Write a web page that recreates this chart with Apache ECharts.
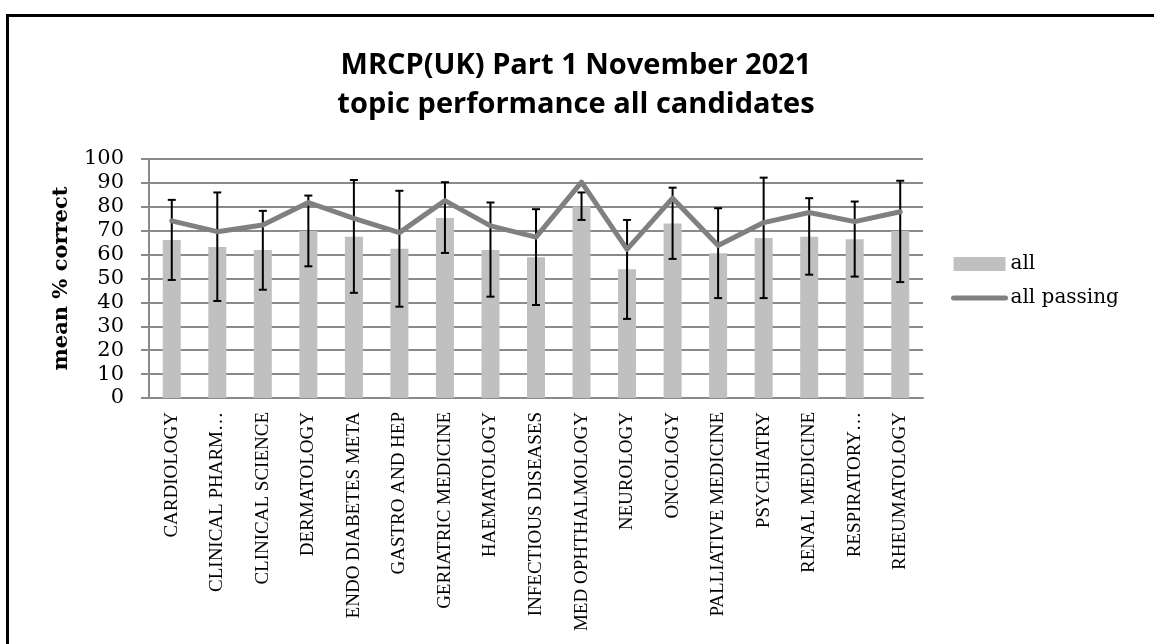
<!DOCTYPE html>
<html>
<head>
<meta charset="utf-8">
<title>MRCP(UK) Part 1 November 2021</title>
<script src="https://cdn.jsdelivr.net/npm/echarts@6/dist/echarts.min.js"></script>
<style>
  html, body { margin: 0; padding: 0; background: #fff; }
  #chart { width: 1154px; height: 644px; }
</style>
</head>
<body>
<div id="chart"></div>
<script>
// topics, as labelled on the axis
var topics = [
  'CARDIOLOGY', 'CLINICAL PHARM\u2026', 'CLINICAL SCIENCE', 'DERMATOLOGY',
  'ENDO DIABETES META', 'GASTRO AND HEP', 'GERIATRIC MEDICINE', 'HAEMATOLOGY',
  'INFECTIOUS DISEASES', 'MED OPHTHALMOLOGY', 'NEUROLOGY', 'ONCOLOGY',
  'PALLIATIVE MEDICINE', 'PSYCHIATRY', 'RENAL MEDICINE', 'RESPIRATORY\u2026', 'RHEUMATOLOGY'
]
var allMean = [66.1, 63.2, 61.9, 69.9, 67.5, 62.5, 75.3, 61.9, 58.9, 80.1, 53.9, 73.0, 60.6, 66.9, 67.5, 66.4, 69.9]
var allPassing = [74.1, 69.6, 72.4, 81.8, 75.2, 69.2, 82.6, 72.0, 67.3, 90.3, 62.2, 83.6, 63.8, 73.4, 77.6, 73.8, 77.9]
// error bar ends for "all"
var errLow = [49.4, 40.6, 45.3, 55.1, 44.0, 38.2, 60.7, 42.4, 38.9, 74.5, 33.1, 58.2, 41.8, 41.8, 51.6, 50.8, 48.5]
var errHigh = [82.9, 86.0, 78.3, 84.7, 91.2, 86.7, 90.3, 81.8, 79.0, 86.0, 74.5, 88.0, 79.4, 92.2, 83.6, 82.2, 90.9]
var yTicks = [0, 10, 20, 30, 40, 50, 60, 70, 80, 90, 100]

var errData = topics.map(function (t, i) { return [i, errLow[i], errHigh[i]] })

var chart = echarts.init(document.getElementById('chart'))

function renderErr(params, api) {
  var lo = api.coord([api.value(0), api.value(1)])
  var hi = api.coord([api.value(0), api.value(2)])
  var cap = 4
  var st = { stroke: '#000', lineWidth: 2 }
  return {
    type: 'group',
    children: [
      { type: 'line', shape: { x1: lo[0], y1: lo[1], x2: hi[0], y2: hi[1] }, style: st },
      { type: 'line', shape: { x1: hi[0] - cap, y1: hi[1], x2: hi[0] + cap, y2: hi[1] }, style: st },
      { type: 'line', shape: { x1: lo[0] - cap, y1: lo[1], x2: lo[0] + cap, y2: lo[1] }, style: st }
    ]
  }
}

chart.setOption({
  animation: false,
  backgroundColor: '#fff',
  graphic: [{
    type: 'rect',
    shape: { x: 7.5, y: 15.5, width: 1200, height: 700 },
    style: { fill: 'none', stroke: '#000', lineWidth: 3 },
    silent: true
  }],
  title: {
    text: 'MRCP(UK) Part 1 November 2021\ntopic performance all candidates',
    left: 571,
    top: 41,
    textAlign: 'center',
    textStyle: {
      fontFamily: 'Open Sans', fontWeight: 'bold', fontSize: 29,
      lineHeight: 39, color: '#000'
    }
  },
  legend: {
    orient: 'vertical',
    left: 951,
    top: 254,
    padding: 0,
    itemWidth: 52,
    itemHeight: 14,
    itemGap: 14,
    data: [
      { name: 'all', icon: 'rect' },
      {
        name: 'all passing',
        itemStyle: { opacity: 0 },
        lineStyle: { width: 5, cap: 'round', color: '#808080' }
      }
    ],
    textStyle: { fontFamily: 'DejaVu Serif', fontSize: 20, color: '#000', padding: [0, 0, 0, 0] }
  },
  grid: { left: 149, right: 231, top: 159, bottom: 246 },
  xAxis: {
    type: 'category',
    data: topics,
    axisLine: { lineStyle: { color: '#8a8a8a', width: 2 } },
    axisTick: { show: false },
    axisLabel: {
      interval: 0, rotate: 90, margin: 14,
      fontFamily: 'Liberation Serif', fontSize: 19, color: '#000'
    }
  },
  yAxis: {
    type: 'value',
    min: yTicks[0],
    max: yTicks[yTicks.length - 1],
    interval: 10,
    name: 'mean % correct',
    nameLocation: 'middle',
    nameGap: 77,
    nameRotate: 90,
    nameTextStyle: { fontFamily: 'DejaVu Serif', fontWeight: 'bold', fontSize: 21, color: '#000' },
    axisLine: { show: true, lineStyle: { color: '#8a8a8a', width: 2 } },
    axisTick: { show: true, length: 8, lineStyle: { color: '#8a8a8a', width: 2 } },
    axisLabel: { margin: 25, fontFamily: 'DejaVu Serif', fontSize: 21, color: '#000' },
    splitLine: { lineStyle: { color: '#8a8a8a', width: 2 } }
  },
  series: [
    {
      name: 'all',
      type: 'bar',
      data: allMean,
      barWidth: 18,
      itemStyle: { color: '#c0c0c0' },
      z: 2
    },
    {
      name: 'errors',
      type: 'custom',
      data: errData,
      renderItem: renderErr,
      encode: { x: 0, y: [1, 2] },
      z: 3
    },
    {
      name: 'all passing',
      type: 'line',
      data: allPassing,
      symbol: 'none',
      lineStyle: { color: '#808080', width: 5, cap: 'round', join: 'round' },
      itemStyle: { color: '#808080' },
      z: 4
    }
  ]
})
</script>
</body>
</html>
